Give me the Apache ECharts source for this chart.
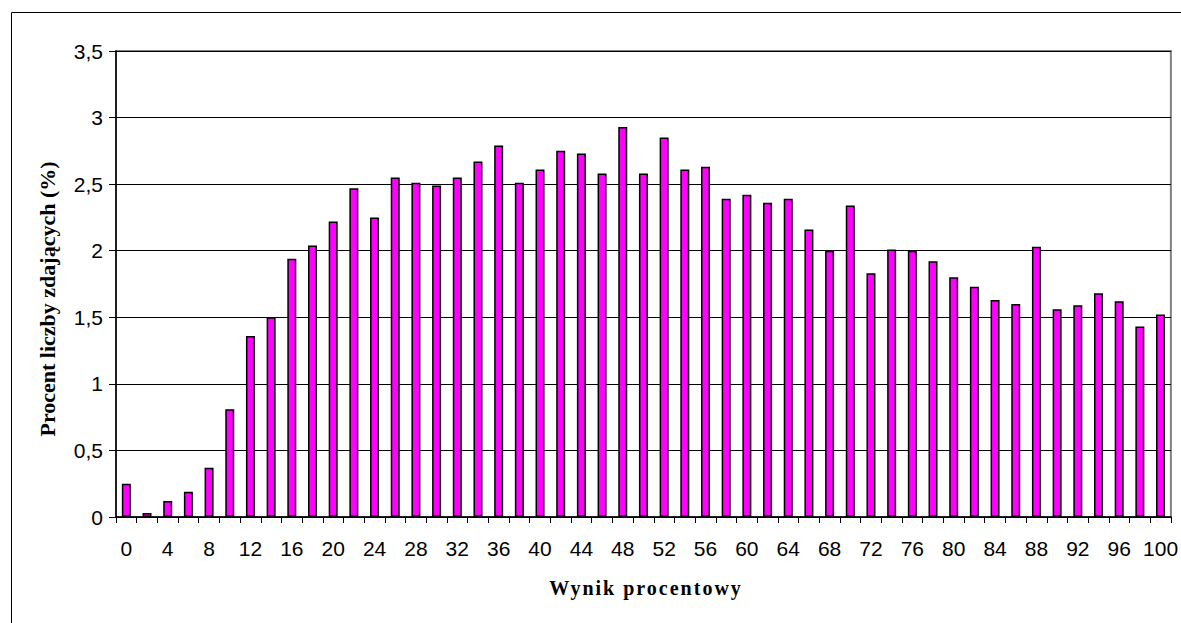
<!DOCTYPE html>
<html>
<head>
<meta charset="utf-8">
<script src="https://cdn.jsdelivr.net/npm/echarts@6/dist/echarts.min.js"></script>
<style>
  html, body { margin: 0; padding: 0; background: #fff; }
  #chart { width: 1181px; height: 623px; }
</style>
</head>
<body>
<div id="chart"></div>
<script>
// Score buckets (percent result)
const categories = ['0','2','4','6','8','10','12','14','16','18','20','22','24','26','28','30','32','34','36','38','40',
  '42','44','46','48','50','52','54','56','58','60','62','64','66','68','70','72','74','76','78','80',
  '82','84','86','88','90','92','94','96','98','100'];

// Share of examinees (%) for each score bucket
const shares = [0.25, 0.03, 0.12, 0.19, 0.37, 0.81, 1.36, 1.50, 1.94, 2.04, 2.22,
  2.47, 2.25, 2.55, 2.51, 2.49, 2.55, 2.67, 2.79, 2.51, 2.61,
  2.75, 2.73, 2.58, 2.93, 2.58, 2.85, 2.61, 2.63, 2.39, 2.42,
  2.36, 2.39, 2.16, 2.00, 2.34, 1.83, 2.01, 2.00, 1.92, 1.80,
  1.73, 1.63, 1.60, 2.03, 1.56, 1.59, 1.68, 1.62, 1.43, 1.52];

const xTitle = 'Wynik procentowy';
const yTitle = 'Procent liczby zdających (%)';

const chart = echarts.init(document.getElementById('chart'), null, { renderer: 'svg' });

chart.setOption({
  animation: false,
  backgroundColor: '#ffffff',
  grid: {
    left: 116, right: 4, top: 51, bottom: 106,
    show: true,
    borderColor: '#808080',
    borderWidth: 2,
    backgroundColor: 'transparent'
  },
  xAxis: {
    type: 'category',
    data: categories,
    boundaryGap: true,
    axisLine: { lineStyle: { color: '#000', width: 1.5 } },
    axisTick: { show: true, interval: 0, length: 6, lineStyle: { color: '#000', width: 1 } },
    axisLabel: {
      interval: 1,
      margin: 21,
      color: '#000',
      fontFamily: "'Liberation Sans', Arial, sans-serif",
      fontSize: 21
    },
    splitLine: { show: false }
  },
  yAxis: {
    type: 'value',
    min: 0, max: 3.5, interval: 0.5,
    axisLine: { show: true, lineStyle: { color: '#000', width: 1.5 } },
    axisTick: { show: true, length: 7, lineStyle: { color: '#000', width: 1 } },
    axisLabel: {
      margin: 13,
      color: '#000',
      fontFamily: "'Liberation Sans', Arial, sans-serif",
      fontSize: 21,
      formatter: v => String(v).replace('.', ',')
    },
    splitLine: { show: true, lineStyle: { color: '#000', width: 1 } }
  },
  graphic: [
    {
      type: 'rect',
      left: 9, top: 10, z: -10, silent: true,
      shape: { width: 1400, height: 800 },
      style: { fill: 'none', stroke: '#000', lineWidth: 1 }
    },
    {
      type: 'text',
      x: 646, y: 588, silent: true,
      style: {
        text: xTitle,
        align: 'center', verticalAlign: 'middle',
        fill: '#000',
        font: "bold 20px 'Liberation Serif', 'Times New Roman', serif"
      }
    },
    {
      type: 'text',
      x: 47, y: 299, rotation: Math.PI / 2, silent: true,
      style: {
        text: yTitle,
        align: 'center', verticalAlign: 'middle',
        fill: '#000',
        font: "bold 22px 'Liberation Serif', 'Times New Roman', serif"
      }
    }
  ],
  series: [{
    type: 'bar',
    data: shares,
    barWidth: 9,
    itemStyle: { color: '#ff00ff', borderColor: '#000', borderWidth: 1.5 }
  }]
});

// Spread the letters of the horizontal axis title
function spaceTitle() {
  document.querySelectorAll('#chart text').forEach(t => {
    if (t.textContent === xTitle) t.style.letterSpacing = '2px';
  });
}
chart.on('finished', spaceTitle);
setTimeout(spaceTitle, 0);
</script>
</body>
</html>
